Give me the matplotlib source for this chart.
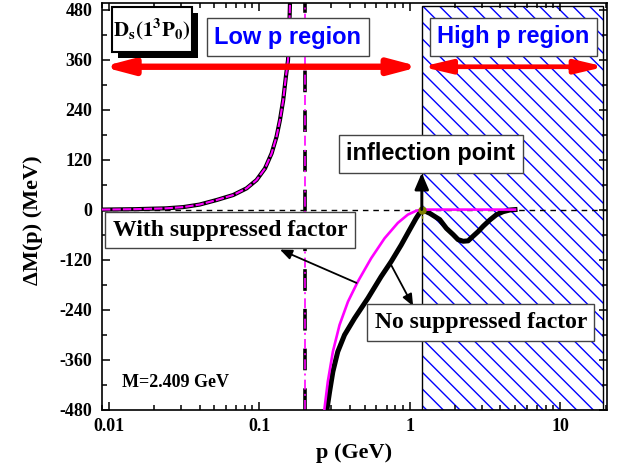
import matplotlib
matplotlib.use("Agg")
import matplotlib.pyplot as plt
from matplotlib.patches import Rectangle, FancyArrowPatch
from matplotlib.ticker import FixedLocator, MultipleLocator, NullFormatter

plt.rcParams['font.family'] = ['Liberation Serif', 'DejaVu Serif']
plt.rcParams['font.weight'] = 'bold'
plt.rcParams['axes.labelweight'] = 'bold'
plt.rcParams['axes.unicode_minus'] = False
plt.rcParams['mathtext.fontset'] = 'stix'
plt.rcParams['hatch.linewidth'] = 1.0

# low p branch (both curves coincide)
low_p = [0.009, 0.015, 0.0187, 0.024, 0.0312, 0.040, 0.052, 0.067, 0.0822, 0.0958,
         0.109, 0.1206, 0.130, 0.137, 0.144, 0.150, 0.155, 0.157, 0.159, 0.161]
low_dm = [0, 1, 2, 3, 6, 12, 23, 35, 51, 71,
          99, 135, 175, 215, 263, 319, 359, 410, 470, 540]

# with suppressed factor (magenta)
mag_p = [0.266, 0.271, 0.285, 0.308, 0.341, 0.388, 0.451, 0.553, 0.679, 0.832,
         0.970, 1.10, 1.2, 5.0]
mag_dm = [-500, -477, -413, -341, -277, -221, -173, -117, -69, -32,
          -12, -3, 0, 0]

# no suppressed factor (black)
blk_p = [0.278, 0.282, 0.293, 0.308, 0.332, 0.368, 0.429, 0.526, 0.644, 0.751,
         0.876, 0.995, 1.10, 1.2, 1.358, 1.58, 1.75, 1.94, 2.09, 2.26,
         2.44, 2.63, 2.84, 3.07, 3.40, 3.77, 4.17, 4.62, 5.0]
blk_dm = [-500, -477, -437, -389, -341, -301, -261, -213, -161, -125,
          -85, -49, -21, 0, -9, -24, -45, -60, -72, -76,
          -75, -64, -53, -40, -25, -12, -5, -1, 0]

p_pole = 0.2
p_infl = 1.2
y_arrow = 343

xticks = [0.01, 0.1, 1, 10]
xticklabels = ['0.01', '0.1', '1', '10']
yticks = [-480, -360, -240, -120, 0, 120, 240, 360, 480]

fig = plt.figure(figsize=(6.18, 4.72), dpi=100)
ax = fig.add_axes([0.165, 0.1324, 0.817, 0.8612])
ax.set_xscale('log')
ax.set_xlim(0.00899, 20.4)
ax.set_ylim(-480, 496)

# high p region hatch
ax.add_patch(Rectangle((p_infl, -480), 19.2 - p_infl, 970, facecolor='none',
                       edgecolor='blue', hatch='\\\\', lw=0, zorder=1))
ax.add_patch(Rectangle((p_infl, -480), 19.2 - p_infl, 970, facecolor='none',
                       edgecolor='k', lw=1.0, zorder=1.1))

ax.axhline(0, color='k', lw=1.0, dashes=(4, 3.5), zorder=2)
ax.axvline(p_pole, color='k', lw=2.6, dashes=(6, 5), zorder=2)
ax.axvline(p_pole, color='magenta', lw=1.2, dashes=(6, 2.5, 1.2, 2.5), zorder=2.1)

ax.plot(low_p, low_dm, color='k', lw=3.0, zorder=3)
ax.plot(low_p, low_dm, color='magenta', lw=1.5, dashes=(4, 1), zorder=3.1)
ax.plot(blk_p, blk_dm, color='k', lw=3.6, zorder=3)
ax.plot(mag_p, mag_dm, color='magenta', lw=1.9, zorder=3.2)

ax.plot([p_infl, p_infl], [0, -30], color='olive', lw=1.0, dashes=(2, 2), zorder=4)
ax.plot([p_infl], [0], 'o', color='olive', ms=5, zorder=4)

# red double arrows
ax.add_patch(FancyArrowPatch((0.00905, y_arrow), (1.165, y_arrow),
                             arrowstyle='<|-|>,head_length=17,head_width=4.5',
                             mutation_scale=1, color='red', lw=4.6,
                             shrinkA=0, shrinkB=0, zorder=5))
ax.add_patch(FancyArrowPatch((p_infl, y_arrow), (19.8, y_arrow),
                             arrowstyle='<|-|>,head_length=17,head_width=4',
                             mutation_scale=1, color='red', lw=3.4,
                             shrinkA=0, shrinkB=0, zorder=5))

# arrows to labels
ax.annotate('', xy=(0.137, -96), xytext=(0.442, -176),
            arrowprops=dict(arrowstyle='-|>,head_length=0.6,head_width=0.25',
                            color='k', lw=1.3, mutation_scale=12,
                            shrinkA=0, shrinkB=0), zorder=6)
ax.annotate('', xy=(1.052, -232), xytext=(0.736, -127),
            arrowprops=dict(arrowstyle='-|>,head_length=0.6,head_width=0.25',
                            color='k', lw=1.3, mutation_scale=12,
                            shrinkA=0, shrinkB=0), zorder=6)
ax.annotate('', xy=(p_infl, 88), xytext=(p_infl, 0),
            arrowprops=dict(arrowstyle='-|>,head_length=0.7,head_width=0.3',
                            color='k', lw=2.0, mutation_scale=14,
                            shrinkA=0, shrinkB=0), zorder=6)

# D_s(1^3P_0) box with black shadow, placed in axes fractions
ax.add_patch(Rectangle((0.0317, 0.864), 0.1584, 0.111, transform=ax.transAxes,
                       facecolor='k', edgecolor='k', lw=0, zorder=6.9))
ax.add_patch(Rectangle((0.0198, 0.879), 0.1584, 0.111, transform=ax.transAxes,
                       facecolor='white', edgecolor='k', lw=1.5, zorder=7))
ax.text(0.099, 0.934, r'$\mathbf{D_s(1^3P_0)}$', transform=ax.transAxes, fontsize=15,
        ha='center', va='center', zorder=7.1)

box_gray = dict(boxstyle='square,pad=0.32', facecolor='white', edgecolor='#444444', lw=1.0)
sans = ['Liberation Sans', 'DejaVu Sans']

ax.text(0.1546, 414, 'Low p region', family=sans, fontsize=17, color='blue',
        ha='center', va='center', bbox=box_gray, zorder=7)
ax.text(4.87, 415, 'High p region', family=sans, fontsize=17, color='blue',
        ha='center', va='center', bbox=box_gray, zorder=7)
ax.text(1.379, 134, 'inflection point', family=sans, fontsize=17, color='k',
        ha='center', va='center', bbox=box_gray, zorder=7)
ax.text(0.0637, -49, 'With suppressed factor', fontsize=17, color='k',
        ha='center', va='center', bbox=box_gray, zorder=7)
ax.text(2.96, -271, 'No suppressed factor', fontsize=17, color='k',
        ha='center', va='center', bbox=box_gray, zorder=7)
ax.text(0.0122, -416, 'M=2.409 GeV', fontsize=13, color='k', ha='left', va='center', zorder=7)

ax.xaxis.set_major_locator(FixedLocator(xticks))
ax.set_xticklabels(xticklabels)
ax.xaxis.set_minor_formatter(NullFormatter())
ax.yaxis.set_major_locator(FixedLocator(yticks))
ax.yaxis.set_minor_locator(MultipleLocator(60))
ax.tick_params(which='both', direction='in', top=True, right=True, width=1.1)
ax.tick_params(which='major', length=6, labelsize=13)
ax.tick_params(which='minor', length=3.5)
ax.tick_params(axis='y', pad=7)
ax.tick_params(axis='x', pad=6)
for s in ax.spines.values():
    s.set_linewidth(1.2)

ax.set_xlabel('p (GeV)', fontsize=16, labelpad=6)
ax.set_ylabel('\u0394M(p) (MeV)', fontsize=16)
ax.yaxis.set_label_coords(-0.117, 0.466)

fig.savefig('out.png', dpi=100)
